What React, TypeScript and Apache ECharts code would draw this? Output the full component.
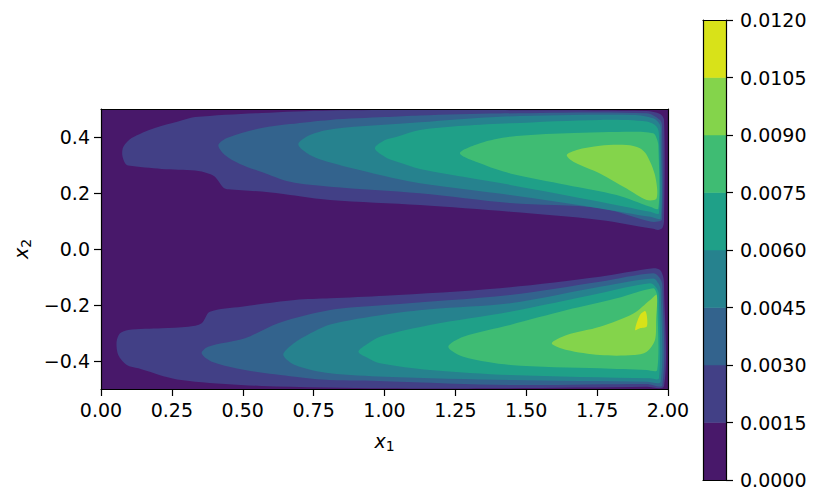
import React, { useEffect, useRef } from 'react';
import * as echarts from 'echarts';

// contour levels and colours (viridis, 8 bands)
const LEVELS = [0, 0.0015, 0.003, 0.0045, 0.006, 0.0075, 0.009, 0.0105, 0.012];
const BAND_COLORS = ['#48186a', '#424086', '#33638d', '#26828e', '#1fa088', '#3fbc73', '#84d44b', '#d8e219'];
const X_TICKS = [0, 0.25, 0.5, 0.75, 1, 1.25, 1.5, 1.75, 2];
const Y_TICKS = [-0.4, -0.2, 0, 0.2, 0.4];

// data domain (band 0 fills it)
const DOMAIN = [[0, -0.5], [2, -0.5], [2, 0.5], [0, 0.5]];

// level boundaries, [x1, x2]
const TOP_L1 = [[0.075, 0.336], [0.079, 0.365], [0.108, 0.396], [0.190, 0.432], [0.272, 0.455], [0.332, 0.471], [0.567, 0.486], [0.808, 0.495], [1.407, 0.496], [1.925, 0.493], [1.972, 0.482], [1.986, 0.461], [1.986, 0.100], [1.980, 0.075], [1.965, 0.068], [1.948, 0.072], [1.760, 0.104], [1.443, 0.133], [1.125, 0.157], [0.808, 0.175], [0.667, 0.193], [0.567, 0.205], [0.449, 0.213], [0.431, 0.220], [0.402, 0.258], [0.378, 0.270], [0.332, 0.280], [0.214, 0.286], [0.096, 0.298], [0.085, 0.306]];
const TOP_L2 = [[0.414, 0.371], [0.449, 0.398], [0.567, 0.432], [0.667, 0.446], [0.808, 0.461], [1.002, 0.471], [1.125, 0.477], [1.407, 0.484], [1.925, 0.485], [1.972, 0.461], [1.979, 0.440], [1.979, 0.105], [1.965, 0.098], [1.937, 0.098], [1.760, 0.146], [1.443, 0.164], [1.125, 0.199], [0.808, 0.2225], [0.667, 0.240], [0.567, 0.275], [0.490, 0.304], [0.437, 0.336]];
const TOP_L3 = [[0.696, 0.374], [0.737, 0.407], [0.819, 0.429], [1.125, 0.4525], [1.407, 0.4725], [1.878, 0.479], [1.948, 0.467], [1.972, 0.443], [1.974, 0.400], [1.974, 0.110], [1.937, 0.115], [1.760, 0.145], [1.443, 0.193], [1.125, 0.235], [0.961, 0.270], [0.819, 0.306], [0.737, 0.336]];
const TOP_L4 = [[0.966, 0.360], [1.002, 0.389], [1.044, 0.401], [1.125, 0.425], [1.278, 0.440], [1.443, 0.449], [1.760, 0.461], [1.925, 0.455], [1.960, 0.437], [1.968, 0.410], [1.968, 0.128], [1.937, 0.133], [1.760, 0.169], [1.443, 0.229], [1.278, 0.258], [1.160, 0.279], [1.125, 0.286], [1.044, 0.312], [1.002, 0.329]];
const TOP_L5 = [[1.266, 0.342], [1.337, 0.378], [1.443, 0.401], [1.643, 0.413], [1.878, 0.419], [1.948, 0.413], [1.960, 0.395], [1.966, 0.370], [1.966, 0.145], [1.937, 0.151], [1.819, 0.193], [1.643, 0.229], [1.443, 0.270], [1.337, 0.306]];
const TOP_L6 = [[1.643, 0.336], [1.678, 0.354], [1.760, 0.369], [1.854, 0.371], [1.901, 0.360], [1.925, 0.336], [1.954, 0.264], [1.960, 0.181], [1.925, 0.175], [1.854, 0.216], [1.760, 0.270], [1.666, 0.312]];

const BOT_L1 = [[0.067, -0.301], [0.096, -0.289], [0.214, -0.283], [0.308, -0.2775], [0.355, -0.265], [0.384, -0.224], [0.496, -0.206], [0.684, -0.182], [0.808, -0.176], [1.002, -0.167], [1.407, -0.140], [1.760, -0.099], [1.948, -0.069], [1.972, -0.075], [1.983, -0.099], [1.986, -0.130], [1.986, -0.489], [1.925, -0.492], [1.407, -0.4975], [1.002, -0.4975], [0.567, -0.489], [0.332, -0.474], [0.249, -0.462], [0.132, -0.426], [0.091, -0.414], [0.061, -0.379], [0.055, -0.331]];
const BOT_L2 = [[0.355, -0.3725], [0.378, -0.349], [0.508, -0.319], [0.625, -0.265], [0.808, -0.218], [1.002, -0.200], [1.443, -0.164], [1.760, -0.117], [1.948, -0.087], [1.972, -0.105], [1.980, -0.130], [1.980, -0.4857], [1.925, -0.482], [1.443, -0.4857], [1.002, -0.472], [0.808, -0.468], [0.684, -0.456], [0.508, -0.432], [0.391, -0.4025]];
const BOT_L3 = [[0.643, -0.3786], [0.667, -0.347], [0.720, -0.312], [0.808, -0.270], [1.002, -0.234], [1.160, -0.215], [1.443, -0.194], [1.760, -0.135], [1.948, -0.105], [1.966, -0.1225], [1.974, -0.146], [1.974, -0.474], [1.925, -0.474], [1.443, -0.468], [1.002, -0.456], [0.808, -0.444], [0.684, -0.414]];
const BOT_L4 = [[0.908, -0.367], [0.943, -0.337], [0.984, -0.313], [1.160, -0.271], [1.443, -0.224], [1.760, -0.158], [1.937, -0.1225], [1.960, -0.140], [1.968, -0.164], [1.968, -0.462], [1.937, -0.462], [1.443, -0.450], [1.160, -0.432], [0.984, -0.408], [0.943, -0.390]];
const BOT_L5 = [[1.225, -0.349], [1.278, -0.313], [1.443, -0.271], [1.643, -0.218], [1.819, -0.176], [1.948, -0.140], [1.960, -0.158], [1.962, -0.182], [1.962, -0.432], [1.925, -0.432], [1.760, -0.426], [1.443, -0.414], [1.278, -0.385]];
const BOT_L6 = [[1.590, -0.337], [1.643, -0.307], [1.760, -0.2775], [1.878, -0.230], [1.937, -0.182], [1.960, -0.164], [1.958, -0.254], [1.954, -0.325], [1.925, -0.367], [1.878, -0.379], [1.760, -0.379], [1.643, -0.361]];
const BOT_L7 = [[1.884, -0.289], [1.901, -0.236], [1.919, -0.221], [1.925, -0.236], [1.925, -0.277], [1.901, -0.283]];

const LAYERS: { level: number; poly: number[][] }[] = [
  { level: 0, poly: DOMAIN },
  { level: 1, poly: TOP_L1 }, { level: 1, poly: BOT_L1 },
  { level: 2, poly: TOP_L2 }, { level: 2, poly: BOT_L2 },
  { level: 3, poly: TOP_L3 }, { level: 3, poly: BOT_L3 },
  { level: 4, poly: TOP_L4 }, { level: 4, poly: BOT_L4 },
  { level: 5, poly: TOP_L5 }, { level: 5, poly: BOT_L5 },
  { level: 6, poly: TOP_L6 }, { level: 6, poly: BOT_L6 },
  { level: 7, poly: BOT_L7 },
];

const FONT = 'DejaVu Sans';
const FS = 19;

export default function App() {
  const ref = useRef<HTMLDivElement>(null);
  useEffect(() => {
    if (!ref.current) return;
    const chart = echarts.init(ref.current, null, { renderer: 'svg' });
    const lineOnly = (extra: any) => ({
      type: 'value', z: 10,
      axisLine: { show: true, onZero: false, lineStyle: { color: '#000', width: 1.2 } },
      axisTick: { show: false }, axisLabel: { show: false }, splitLine: { show: false },
      ...extra,
    });
    const mainGrid = { left: 101, top: 109, width: 567, height: 280 };
    const cbGrid = { left: 703, top: 20, width: 23, height: 460 };
    chart.setOption({
      animation: false,
      backgroundColor: '#fff',
      textStyle: { fontFamily: FONT },
      grid: [mainGrid, cbGrid],
      xAxis: [
        {
          type: 'value', gridIndex: 0, position: 'bottom', min: 0, max: 2, interval: 0.25, z: 10,
          axisLine: { show: true, onZero: false, lineStyle: { color: '#000', width: 1.2 } },
          axisTick: { show: true, length: 7, lineStyle: { color: '#000', width: 1.2 } },
          axisLabel: { color: '#000', fontSize: FS, fontFamily: FONT, margin: 11, formatter: (v: number) => v.toFixed(2),
            customValues: X_TICKS },
          splitLine: { show: false },
          name: '{i|x}{s|1}', nameLocation: 'middle', nameGap: 40,
          nameTextStyle: { rich: { i: { fontSize: FS, fontStyle: 'italic', fontFamily: FONT, color: '#000' }, s: { fontSize: 14, fontFamily: FONT, color: '#000', padding: [10, 0, 0, 0] } } },
        },
        lineOnly({ gridIndex: 0, position: 'top', min: 0, max: 2 }),
        lineOnly({ gridIndex: 1, position: 'bottom', min: 0, max: 1 }),
        lineOnly({ gridIndex: 1, position: 'top', min: 0, max: 1 }),
      ],
      yAxis: [
        {
          type: 'value', gridIndex: 0, position: 'left', min: -0.5, max: 0.5, z: 10,
          axisLine: { show: true, onZero: false, lineStyle: { color: '#000', width: 1.2 } },
          axisTick: { show: true, length: 7, lineStyle: { color: '#000', width: 1.2 }, customValues: Y_TICKS },
          axisLabel: { color: '#000', fontSize: FS, fontFamily: FONT, margin: 11, customValues: Y_TICKS,
            formatter: (v: number) => (v < -1e-9 ? '\u2212' : '') + Math.abs(v).toFixed(1) },
          splitLine: { show: false },
          name: '{i|x}{s|2}', nameLocation: 'middle', nameGap: 68, nameRotate: 90,
          nameTextStyle: { rich: { i: { fontSize: FS, fontStyle: 'italic', fontFamily: FONT, color: '#000' }, s: { fontSize: 14, fontFamily: FONT, color: '#000', padding: [10, 0, 0, 0] } } },
        },
        lineOnly({ gridIndex: 0, position: 'right', min: -0.5, max: 0.5 }),
        {
          type: 'value', gridIndex: 1, position: 'right', min: 0, max: 0.012, z: 10,
          axisLine: { show: true, onZero: false, lineStyle: { color: '#000', width: 1.2 } },
          axisTick: { show: true, length: 7, lineStyle: { color: '#000', width: 1.2 }, customValues: LEVELS },
          axisLabel: { color: '#000', fontSize: FS, fontFamily: FONT, margin: 14, customValues: LEVELS,
            formatter: (v: number) => v.toFixed(4) },
          splitLine: { show: false },
        },
        lineOnly({ gridIndex: 1, position: 'left', min: 0, max: 0.012 }),
      ],
      series: [
        {
          type: 'custom', xAxisIndex: 0, yAxisIndex: 0, clip: true,
          data: LAYERS.map((_, i) => [i]),
          renderItem: (params: any, api: any) => {
            const layer = LAYERS[params.dataIndex];
            const pts = layer.poly.map((p) => api.coord(p));
            return {
              type: 'polygon',
              shape: { points: pts, smooth: layer.level === 0 ? 0 : 0.3 },
              style: { fill: BAND_COLORS[layer.level], stroke: null },
            };
          },
        },
        {
          type: 'custom', xAxisIndex: 2, yAxisIndex: 2, clip: true,
          data: BAND_COLORS.map((_, i) => [i]),
          renderItem: (params: any, api: any) => {
            const i = params.dataIndex;
            const a = api.coord([0, LEVELS[i + 1]]);
            const b = api.coord([1, LEVELS[i]]);
            return {
              type: 'rect',
              shape: { x: a[0], y: a[1], width: b[0] - a[0], height: b[1] - a[1] },
              style: { fill: BAND_COLORS[i], stroke: BAND_COLORS[i], lineWidth: 0.5 },
            };
          },
        },
      ],
    });
    return () => chart.dispose();
  }, []);
  return <div ref={ref} style={{ position: 'absolute', left: 0, top: 0, width: 830, height: 504 }} />;
}
